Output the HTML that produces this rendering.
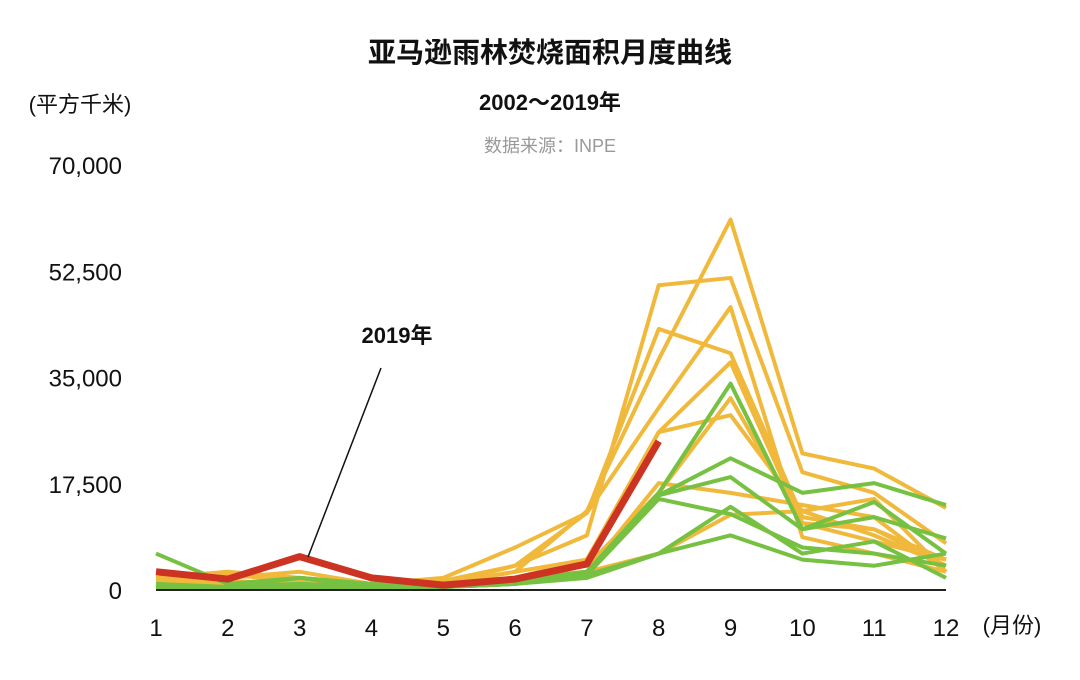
<!DOCTYPE html>
<html><head><meta charset="utf-8"><style>
html,body{margin:0;padding:0;background:#fff;}
svg{display:block;font-family:"Liberation Sans","Noto Sans CJK SC",sans-serif;}
</style></head><body>
<svg id="chart" width="1080" height="680" viewBox="0 0 1080 680">
<text x="550" y="62" text-anchor="middle" font-size="28" font-weight="bold" fill="#111">亚马逊雨林焚烧面积月度曲线</text>
<text x="550" y="110" text-anchor="middle" font-size="22" font-weight="bold" fill="#111">2002～2019年</text>
<text x="550" y="152" text-anchor="middle" font-size="18" fill="#999">数据来源：INPE</text>
<text x="80" y="112" text-anchor="middle" font-size="22" fill="#111">(平方千米)</text>
<text x="1012" y="633" text-anchor="middle" font-size="22" fill="#111">(月份)</text>
<g id="yticks"></g><g id="xticks"></g>
<g id="lines"></g>
<line x1="156" y1="590" x2="946" y2="590" stroke="#222" stroke-width="2"/>
<g id="hl"></g>
<text x="397" y="343" text-anchor="middle" font-size="22" font-weight="bold" fill="#111">2019年</text>
<line x1="381" y1="368" x2="308" y2="557" stroke="#111" stroke-width="1.5"/>
</svg>
<script>
const months=[1,2,3,4,5,6,7,8,9,10,11,12];
const yTicks=[0,17500,35000,52500,70000];
const yTickLabels=["0","17,500","35,000","52,500","70,000"];
// values in thousands of km²
const orangeSeries=[
[1.5,2.5,1.5,0.8,1,3,13,38,61,22.5,20,13.5],
[1,1.5,1,0.5,1.5,4,9,50.2,51.4,19.4,16,7.7],
[2,3,2,1,2,7,12.7,43,39,12,10,4],
[1,2,3,1,1,4,12.7,30,46.6,8.7,6,3],
[0.5,1,2,1,1,2,5,26,37.5,11,8,5],
[1,1,1,0.5,1,3,5,26,28.8,13,9,4],
[0.5,0.5,1,0.5,1,2,4,16,31.6,11,10,5],
[0.5,1,1,0.5,0.8,2,3,17.6,16,14,12,3],
[0.5,1,0.5,0.5,0.8,1.5,3,6,12.4,13,15,3]];
const greenSeries=[
[6,1,2,1,0.5,1.5,3,16,34,10,14.5,6],
[1,0.5,1,0.5,0.5,1.5,3,15.6,21.7,16,17.6,14],
[0.5,0.5,2,0.5,0.5,1.5,3,15.6,18.6,10,12,8.5],
[0.5,0.5,1,0.5,0.5,1,2.5,15,12.5,7,6,4],
[0.3,0.5,0.5,0.3,0.5,1,2.5,6,13.7,6,8,2],
[0.3,0.3,0.5,0.3,0.5,1,2,6,9,5,4,6]];
const series2019=[3,1.8,5.5,2,0.8,1.8,4.3,24.5];
const NS="http://www.w3.org/2000/svg";
function xS(m){return 156+(m-1)*(946-156)/11;}
function yS(v){return 590-v*425/70000;}
const yt=document.getElementById('yticks');
yTicks.forEach((v,i)=>{const t=document.createElementNS(NS,'text');


t.setAttribute('x',122);t.setAttribute('y',yS(v)+9);t.setAttribute('text-anchor','end');t.setAttribute('font-size','24');t.setAttribute('fill','#111');t.textContent=yTickLabels[i];yt.appendChild(t);});
const xt=document.getElementById('xticks');
months.forEach(m=>{const t=document.createElementNS(NS,'text');


t.setAttribute('x',xS(m));t.setAttribute('y',636);t.setAttribute('text-anchor','middle');t.setAttribute('font-size','24');t.setAttribute('fill','#111');t.textContent=m;xt.appendChild(t);});
function pts(arr){return arr.map((v,i)=>xS(months[i])+','+yS(v*1000)).join(' ');}
const lg=document.getElementById('lines');
orangeSeries.forEach(s=>{const p=document.createElementNS(NS,'polyline');


p.setAttribute('points',pts(s));p.setAttribute('fill','none');p.setAttribute('stroke','#f0b93c');p.setAttribute('stroke-width','4');p.setAttribute('stroke-linejoin','round');lg.appendChild(p);});
greenSeries.forEach(s=>{const p=document.createElementNS(NS,'polyline');


p.setAttribute('points',pts(s));p.setAttribute('fill','none');p.setAttribute('stroke','#76c042');p.setAttribute('stroke-width','4');p.setAttribute('stroke-linejoin','round');lg.appendChild(p);});
const r=document.createElementNS(NS,'polyline');


r.setAttribute('points',pts(series2019));r.setAttribute('fill','none');r.setAttribute('stroke','#cc3322');r.setAttribute('stroke-width','7');r.setAttribute('stroke-linejoin','round');
document.getElementById('hl').appendChild(r);
</script>
</body></html>
